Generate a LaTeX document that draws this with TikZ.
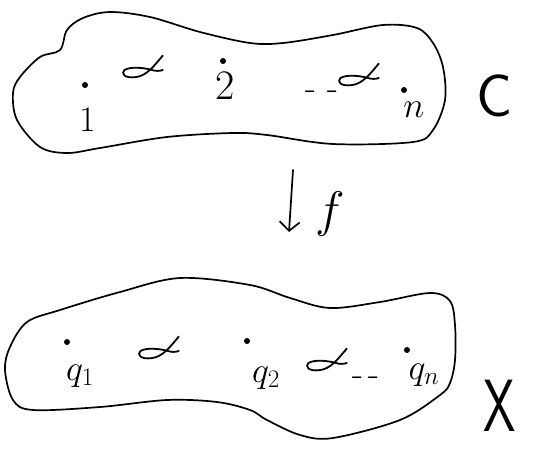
\RequirePackage{fix-cm}
\documentclass[tikz,border=0pt]{standalone}
\usetikzlibrary{arrows.meta}
\begin{document}
\begin{tikzpicture}[x=1pt,y=-1pt,
  ink/.style={line width=1.7pt,line cap=round,line join=round,black},
  pt/.style={circle,fill=black,inner sep=0pt,minimum size=6pt},
  lbl/.style={inner sep=0pt,font=\fontsize{36}{36}\selectfont},
  big/.style={inner sep=0pt,font=\fontsize{60}{60}\selectfont\sffamily},
  fish/.pic={\draw[ink,line width=1.8pt,scale=1.2] (14,-12) .. controls (7,-4) and (1,5) .. (-9,6)
      .. controls (-18,7) and (-21,3) .. (-18,0)
      .. controls (-13,-3) and (-2,-2) .. (5,0) .. controls (8,1) and (11,1) .. (14,0);}
]
\useasboundingbox (0,0) rectangle (556,455);
% top blob C
\draw[ink] plot[smooth cycle,tension=0.55] coordinates {
  (110,12) (150,17) (200,32) (250,43) (283,43) (333,35) (383,25) (417,28)
  (433,43) (443,67) (445,100) (433,130) (413,142) (333,144) (267,135)
  (233,133) (167,137) (100,148) (67,153) (40,147) (17,120) (13,93)
  (20,77) (40,57) (60,50) (67,30) (83,18)};
% bottom blob X
\draw[ink] plot[smooth cycle,tension=0.55] coordinates {
  (27,322) (60,310) (120,292) (180,278) (250,285) (290,298) (330,308)
  (380,302) (430,293) (450,301) (455,325) (455,360) (450,383) (440,395)
  (400,420) (333,438) (300,435) (267,420) (250,410) (217,402) (167,400)
  (100,407) (33,410) (13,400) (5,370) (10,347)};
% points in C
\node[pt] (p1) at (85,85) {};
\node[lbl] (l1) at (88,120) {1};
\node[pt] (p2) at (223,61) {};
\node[lbl,font=\fontsize{42}{42}\selectfont] (l2) at (225,86) {2};
\node[pt] (pn) at (404,90) {};
\node[lbl] (ln) at (414,110) {$n$};
\node[lbl] (dc) at (322,95) {-\,\,-};
\pic at (146,70) {fish};
\pic at (362,78) {fish};
\node[big] (C) at (495,96) {C};
% map f
\coordinate (fs) at (293,170);
\coordinate (fe) at (289,232);
\draw[ink,-{Straight Barb[length=9pt,width=20pt,line width=1.7pt]}] (fs) -- (fe);
\node[inner sep=0pt,font=\fontsize{50}{50}\selectfont] (f) at (330,214) {$f$};
% points in X
\node[pt] (q1) at (67,342) {};
\node[lbl] (lq1) at (80,376) {$q_1$};
\node[pt] (q2) at (247,341) {};
\node[lbl] (lq2) at (266,378) {$q_2$};
\node[pt] (qn) at (407,350) {};
\node[lbl] (lqn) at (424,375) {$q_n$};
\node[lbl] (dx) at (366,381) {-\,-};
\pic at (162,351) {fish};
\pic at (330,363) {fish};
\node[big,xscale=0.7,font=\fontsize{74}{74}\selectfont\sffamily] (X) at (500,406) {X};
\end{tikzpicture}
\end{document}
